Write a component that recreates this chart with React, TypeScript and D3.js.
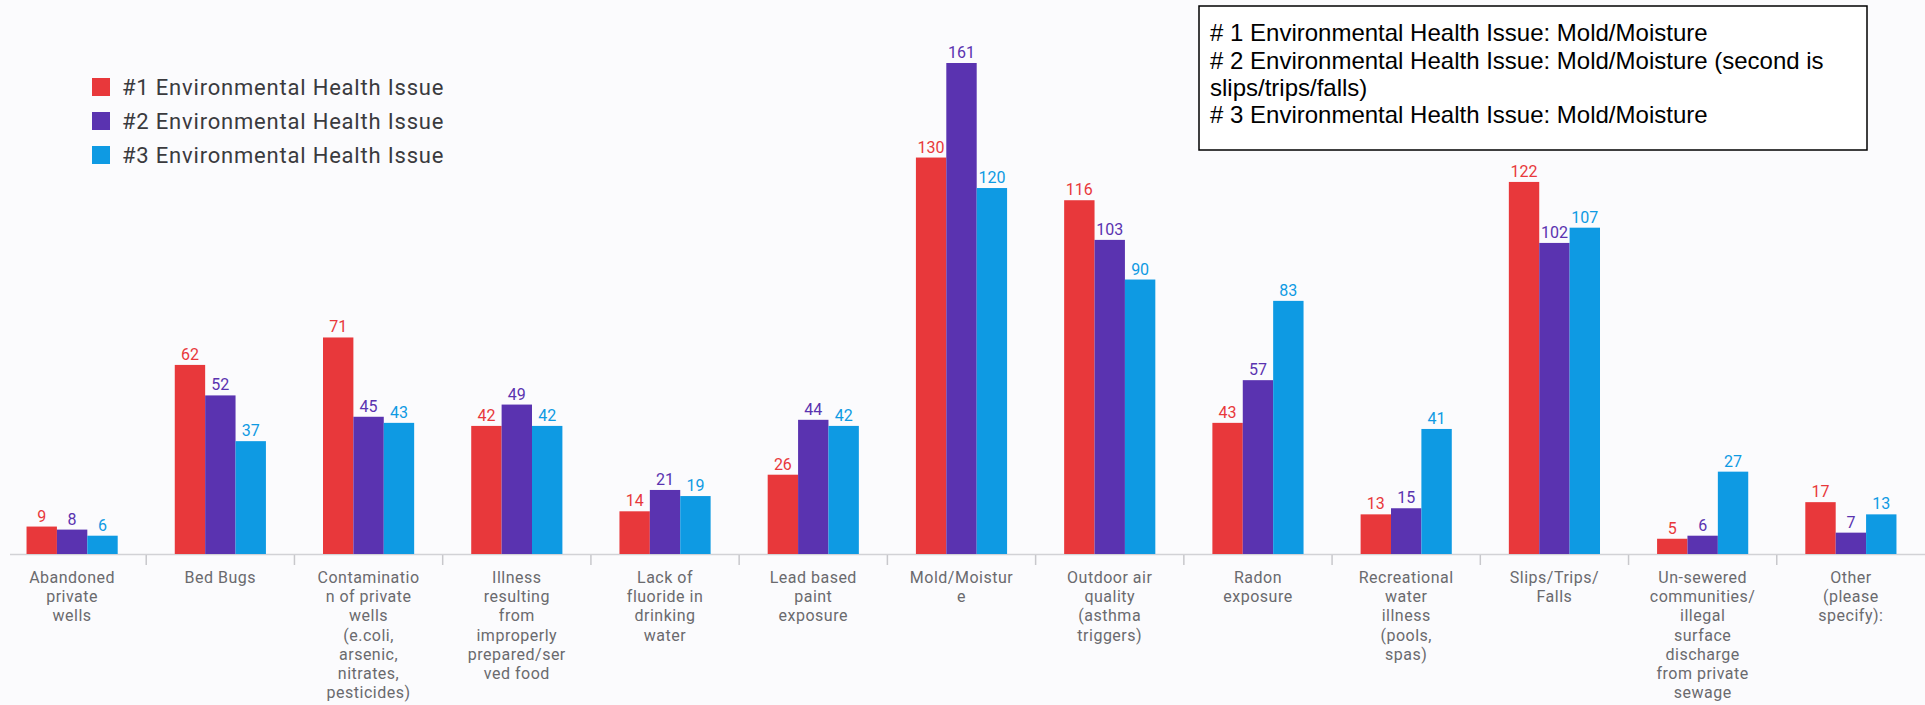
import React from "react";
import * as d3 from "d3";

const categoryLabels: string[][] = [
  ["Abandoned", "private", "wells"],
  ["Bed Bugs"],
  ["Contaminatio", "n of private", "wells", "(e.coli,", "arsenic,", "nitrates,", "pesticides)"],
  ["Illness", "resulting", "from", "improperly", "prepared/ser", "ved food"],
  ["Lack of", "fluoride in", "drinking", "water"],
  ["Lead based", "paint", "exposure"],
  ["Mold/Moistur", "e"],
  ["Outdoor air", "quality", "(asthma", "triggers)"],
  ["Radon", "exposure"],
  ["Recreational", "water", "illness", "(pools,", "spas)"],
  ["Slips/Trips/", "Falls"],
  ["Un-sewered", "communities/", "illegal", "surface", "discharge", "from private", "sewage"],
  ["Other", "(please", "specify):"],
];

const issue1 = [9, 62, 71, 42, 14, 26, 130, 116, 43, 13, 122, 5, 17];
const issue2 = [8, 52, 45, 49, 21, 44, 161, 103, 57, 15, 102, 6, 7];
const issue3 = [6, 37, 43, 42, 19, 42, 120, 90, 83, 41, 107, 27, 13];

const seriesNames = [
  "#1 Environmental Health Issue",
  "#2 Environmental Health Issue",
  "#3 Environmental Health Issue",
];
const seriesColors = ["#e8383b", "#5a33b0", "#0e9ae3"];

const noteLines = [
  "# 1 Environmental Health Issue: Mold/Moisture",
  "# 2 Environmental Health Issue: Mold/Moisture (second is",
  "slips/trips/falls)",
  "# 3 Environmental Health Issue: Mold/Moisture",
];

const W = 1925;
const H = 705;

export default function App() {
  const series = [issue1, issue2, issue3];
  const idx = categoryLabels.map((_, i) => i);
  const x = d3.scaleBand<number>().domain(idx).range([-2, W]).paddingInner(0.385).paddingOuter(0.1925);
  const xs = d3.scaleBand<number>().domain([0, 1, 2]).range([0, x.bandwidth()]).padding(0);
  const y = d3.scaleLinear().domain([0, 161]).range([554, 63]);
  const step = x.step();
  const labelFont = "Roboto, 'Noto Sans', sans-serif";

  return (
    <svg
      width={W}
      height={H}
      style={{ position: "absolute", left: 0, top: 0, display: "block", background: "#fbfbfd" }}
    >
      {/* axis */}
      <line x1={10} x2={W} y1={y(0) + 0.5} y2={y(0) + 0.5} stroke="#d2d2d6" strokeWidth={1.5} />
      {idx.slice(1).map((i) => {
        const tx = (x(i) as number) - (step - x.bandwidth()) / 2;
        return <line key={"t" + i} x1={tx} x2={tx} y1={y(0) + 1} y2={y(0) + 11} stroke="#c8c8cc" strokeWidth={1.5} />;
      })}
      {/* bars */}
      {idx.map((i) =>
        series.map((s, k) => {
          const bx = (x(i) as number) + (xs(k) as number);
          const bw = xs.bandwidth();
          return (
            <g key={`b${i}-${k}`}>
              <rect x={bx} y={y(s[i])} width={bw} height={y(0) - y(s[i])} fill={seriesColors[k]} />
              <text
                x={bx + bw / 2}
                y={y(s[i]) - 5}
                textAnchor="middle"
                fontFamily={labelFont}
                fontSize={16}
                fill={seriesColors[k]}
              >
                {s[i]}
              </text>
            </g>
          );
        })
      )}
      {/* category labels */}
      {idx.map((i) => (
        <text
          key={"l" + i}
          x={(x(i) as number) + x.bandwidth() / 2}
          y={577}
          textAnchor="middle"
          fontFamily={labelFont}
          fontSize={16}
          letterSpacing={0.5}
          fill="#6a6a6e"
        >
          {categoryLabels[i].map((ln, j) => (
            <tspan key={j} x={(x(i) as number) + x.bandwidth() / 2} y={577 + j * 19.3} dy="0.35em">
              {ln}
            </tspan>
          ))}
        </text>
      ))}
      {/* legend */}
      {seriesNames.map((n, k) => (
        <g key={"lg" + k} transform={`translate(92, ${87 + k * 34})`}>
          <rect x={0} y={-9} width={18} height={18} fill={seriesColors[k]} />
          <text x={30} y={0} dy="0.35em" fontFamily={labelFont} fontSize={22} letterSpacing={0.8} fill="#3a3a3e">
            {n}
          </text>
        </g>
      ))}
      {/* note box */}
      <rect x={1199} y={6} width={668} height={144} fill="#ffffff" stroke="#000" strokeWidth={1.5} />
      {noteLines.map((ln, j) => (
        <text
          key={"n" + j}
          x={1210}
          y={33 + j * 27.3}
          dy="0.35em"
          fontFamily="'Liberation Sans', Arial, sans-serif"
          fontSize={24}
          fill="#000"
        >
          {ln}
        </text>
      ))}
    </svg>
  );
}
